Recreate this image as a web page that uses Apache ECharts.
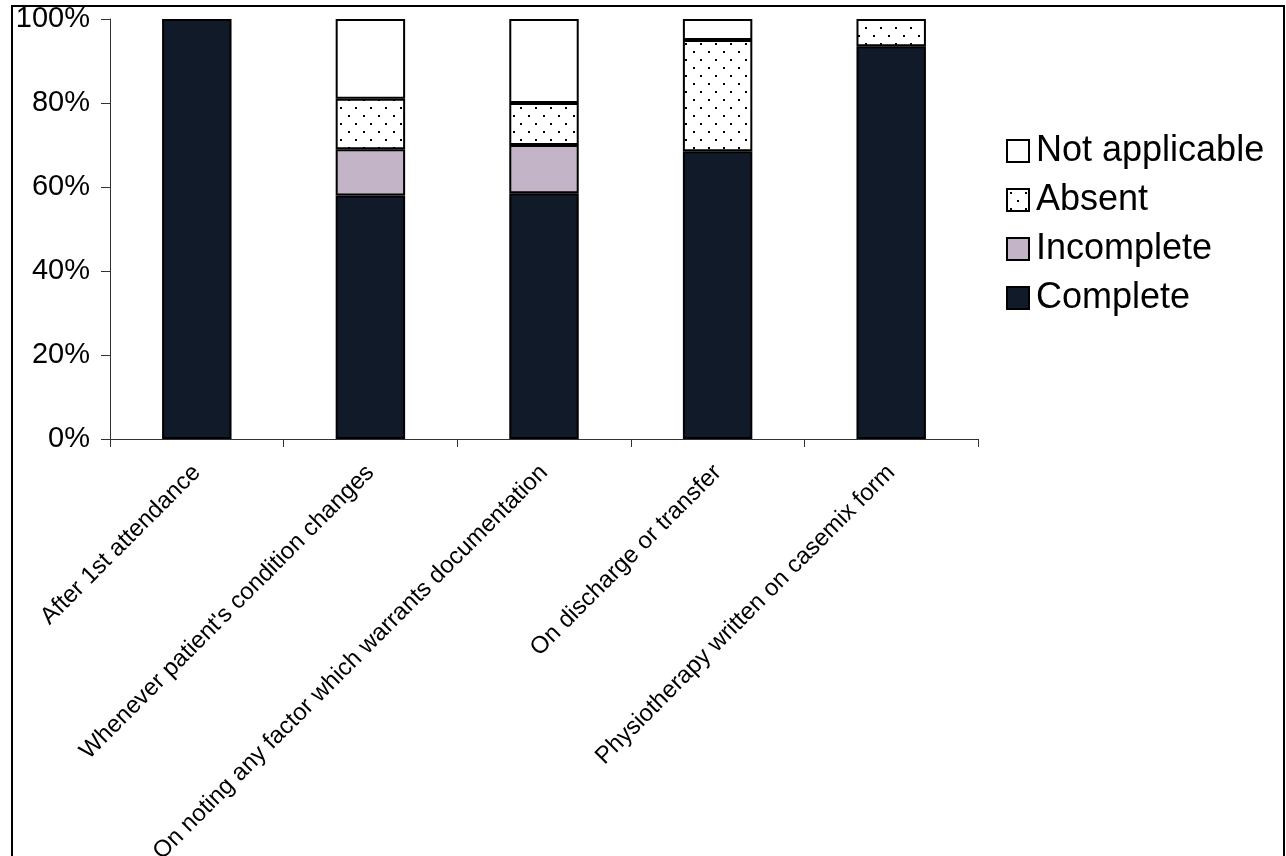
<!DOCTYPE html>
<html>
<head>
<meta charset="utf-8">
<script src="https://cdn.jsdelivr.net/npm/echarts@6/dist/echarts.min.js"></script>
<style>
  html, body { margin: 0; padding: 0; background: #fff; }
  #chart { width: 1286px; height: 856px; }
</style>
</head>
<body>
<div id="chart"></div>
<script>
// Documentation points along the x axis
const categories = [
  'After 1st attendance',
  "Whenever patient's condition changes",
  'On noting any factor which warrants documentation',
  'On discharge or transfer',
  'Physiotherapy written on casemix form'
];

// Percentage of records in each state (stacked to 100%)
const complete      = [100, 58, 58.5, 68.5, 93.5];
const incomplete    = [0, 11, 11.5, 0, 0];
const absent        = [0, 12, 10, 26.5, 6.5];
const notApplicable = [0, 19, 20, 5, 0];

const yTicks = [0, 20, 40, 60, 80, 100];

const FONT = '"Liberation Sans", Arial, Helvetica, sans-serif';

// Dotted fill used for the "Absent" segments
function dotPattern() {
  const c = document.createElement('canvas');
  c.width = 15; c.height = 16;
  const ctx = c.getContext('2d');
  ctx.fillStyle = '#ffffff';
  ctx.fillRect(0, 0, 15, 16);
  ctx.fillStyle = '#000000';
  ctx.fillRect(3, 3, 2, 2);
  ctx.fillRect(10, 11, 2, 2);
  return c;
}

const chart = echarts.init(document.getElementById('chart'), null, { renderer: 'canvas' });

const edge = { borderColor: '#000', borderWidth: 2 };

// Empty segments are skipped so they don't add extra outlines
function seg(name, data, color) {
  return {
    name: name,
    type: 'bar',
    stack: 'total',
    barWidth: '40%',
    data: data.map(v => (v === 0 ? '-' : v)),
    itemStyle: Object.assign({ color: color }, edge),
    emphasis: { disabled: true }
  };
}

chart.setOption({
  animation: false,
  backgroundColor: '#fff',
  textStyle: { fontFamily: FONT, color: '#000' },
  grid: {
    left: 110, right: 308, top: 19, bottom: 417,
    containLabel: false,
    outerBoundsMode: 'none'
  },
  legend: {
    orient: 'vertical',
    left: 1001,
    top: 128,
    icon: 'rect',
    itemWidth: 22,
    itemHeight: 22,
    itemGap: 13,
    data: ['Not applicable', 'Absent', 'Incomplete', 'Complete'],
    itemStyle: { borderColor: '#000', borderWidth: 2 },
    textStyle: { fontSize: 36, fontFamily: FONT, color: '#000', padding: [0, 0, 0, 2] }
  },
  xAxis: {
    type: 'category',
    data: categories,
    boundaryGap: true,
    axisLine: { lineStyle: { color: '#333', width: 1 } },
    axisTick: { show: true, interval: 0, length: 8, lineStyle: { color: '#333' } },
    axisLabel: {
      interval: 0,
      rotate: 45,
      margin: 30,
      fontSize: 24,
      fontFamily: FONT,
      color: '#000'
    }
  },
  yAxis: {
    type: 'value',
    min: yTicks[0],
    max: yTicks[yTicks.length - 1],
    interval: 20,
    axisLine: { show: true, lineStyle: { color: '#333', width: 1 } },
    axisTick: { show: true, length: 9, lineStyle: { color: '#333' } },
    splitLine: { show: false },
    axisLabel: {
      formatter: '{value}%',
      fontSize: 29,
      margin: 20,
      fontFamily: FONT,
      color: '#000'
    }
  },
  series: [
    seg('Complete', complete, '#101a29'),
    seg('Incomplete', incomplete, '#c4b4c7'),
    seg('Absent', absent, { image: dotPattern(), repeat: 'repeat' }),
    seg('Not applicable', notApplicable, '#ffffff')
  ],
  graphic: [
    {
      type: 'rect',
      shape: { x: 12, y: 6, width: 1272, height: 870 },
      style: { fill: 'none', stroke: '#000', lineWidth: 2 },
      silent: true
    }
  ]
});
</script>
</body>
</html>
